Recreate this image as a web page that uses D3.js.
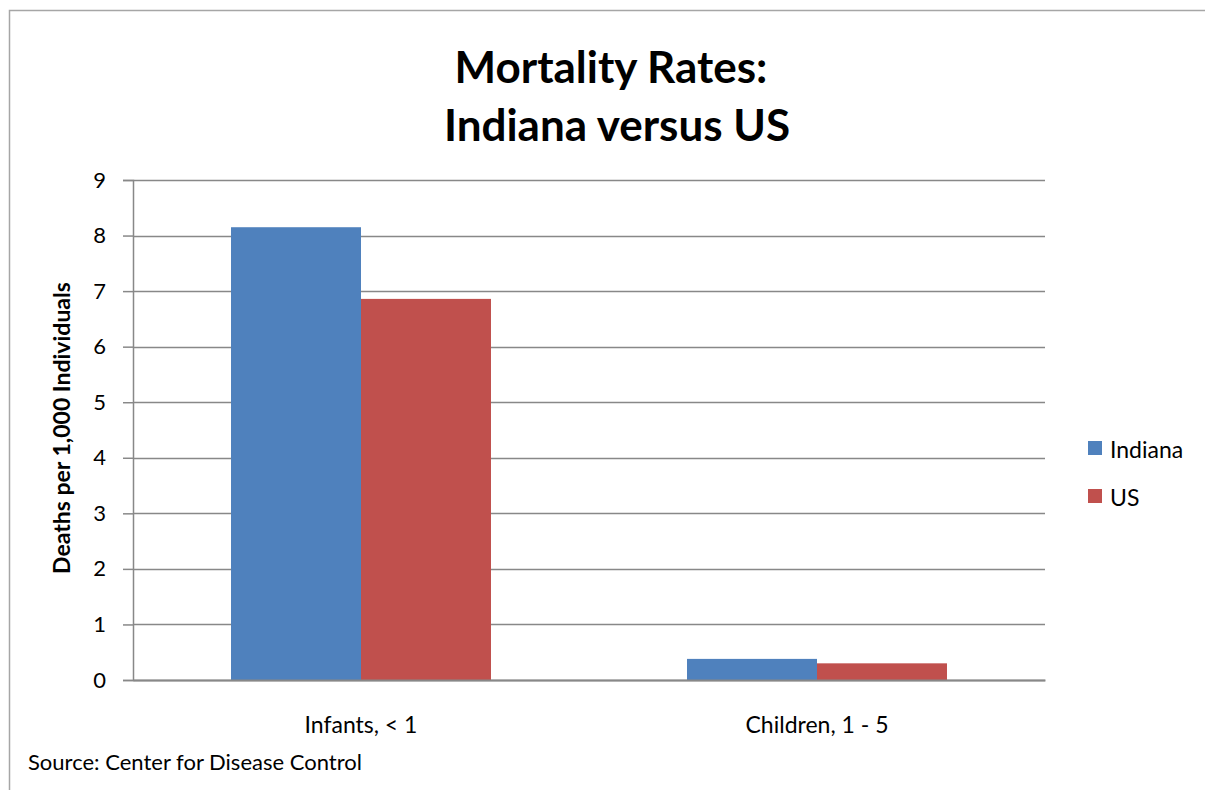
<!DOCTYPE html>
<html>
<head>
<meta charset="utf-8">
<script src="https://cdn.jsdelivr.net/npm/d3@7"></script>
<style>
  html, body { margin: 0; padding: 0; background: #fff; }
  svg { display: block; }
  text { font-family: Lato, "Open Sans", sans-serif; fill: #000; }
</style>
</head>
<body>
<svg id="chart" width="1205" height="790"></svg>
<script>
// Mortality rates per 1,000 individuals
const categories = ["Infants, < 1", "Children, 1 - 5"];
const seriesNames = ["Indiana", "US"];
const indianaValues = [8.15, 0.38];
const usValues = [6.86, 0.30];
const yTicks = [0, 1, 2, 3, 4, 5, 6, 7, 8, 9];
const seriesColors = ["#4F81BD", "#C0504D"];

const rows = categories.map((c, i) => ({
  category: c,
  values: [
    { series: seriesNames[0], value: indianaValues[i] },
    { series: seriesNames[1], value: usValues[i] }
  ]
}));

const svg = d3.select("#chart");

// chart frame
svg.append("rect")
  .attr("x", 9.5).attr("y", 10.5)
  .attr("width", 1210).attr("height", 800)
  .attr("fill", "none").attr("stroke", "#a6a6a6").attr("stroke-width", 1.5);

const plot = { left: 133, right: 1045, top: 180, bottom: 680 };

const x0 = d3.scaleBand().domain(categories).range([plot.left, plot.right]).padding(0);
const x1 = d3.scaleBand().domain(seriesNames).range([0, x0.bandwidth()])
  .paddingInner(0).paddingOuter(0.754);
const y = d3.scaleLinear().domain([0, 9]).range([plot.bottom, plot.top]);
const color = d3.scaleOrdinal().domain(seriesNames).range(seriesColors);

// horizontal gridlines
svg.append("g")
  .selectAll("line")
  .data(yTicks)
  .join("line")
  .attr("x1", plot.left).attr("x2", plot.right)
  .attr("y1", d => Math.round(y(d)) + 0.5).attr("y2", d => Math.round(y(d)) + 0.5)
  .attr("stroke", "#888").attr("stroke-width", 1.5);

// y axis
const yAxis = svg.append("g")
  .attr("transform", `translate(${plot.left},0)`)
  .call(d3.axisLeft(y).tickValues(yTicks).tickFormat(d3.format("d")).tickSize(10).tickPadding(17));
yAxis.select(".domain").attr("stroke", "#888").attr("stroke-width", 1.5);
yAxis.selectAll(".tick line").attr("stroke", "#888").attr("stroke-width", 1.5);
yAxis.selectAll(".tick text")
  .style("font-family", "Lato, sans-serif").style("font-size", "22px").attr("fill", "#000");

// bars
svg.append("g")
  .selectAll("g")
  .data(rows)
  .join("g")
  .attr("transform", d => `translate(${x0(d.category)},0)`)
  .selectAll("rect")
  .data(d => d.values)
  .join("rect")
  .attr("x", d => x1(d.series))
  .attr("width", x1.bandwidth())
  .attr("y", d => y(d.value))
  .attr("height", d => y(0) - y(d.value))
  .attr("fill", d => color(d.series));

// x axis baseline
const xAxis = svg.append("g")
  .attr("transform", `translate(0,${plot.bottom})`)
  .call(d3.axisBottom(x0).tickSize(0).tickPadding(37));
xAxis.select(".domain").attr("stroke", "#888").attr("stroke-width", 2);
xAxis.selectAll(".tick text")
  .style("font-family", "Lato, sans-serif").style("font-size", "23px").attr("fill", "#000");

// title
const title = svg.append("text")
  .attr("text-anchor", "middle")
  .style("font-size", "44px").style("font-weight", "bold");
title.append("tspan").attr("x", 611).attr("y", 83).text("Mortality Rates:");
title.append("tspan").attr("x", 617).attr("y", 141).text("Indiana versus US");

// y axis title
svg.append("text")
  .attr("transform", `translate(70,${(plot.top + plot.bottom) / 2 - 2}) rotate(-90)`)
  .attr("text-anchor", "middle")
  .style("font-size", "23px").style("font-weight", "bold")
  .text("Deaths per 1,000 Individuals");

// legend
const legend = svg.append("g")
  .selectAll("g")
  .data(seriesNames)
  .join("g")
  .attr("transform", (d, i) => `translate(1088,${441 + i * 48})`);
legend.append("rect")
  .attr("width", 14).attr("height", 14)
  .attr("fill", d => color(d));
legend.append("text")
  .attr("x", 22).attr("y", 17)
  .style("font-size", "23px")
  .text(d => d);

// source note
svg.append("text")
  .attr("x", 28).attr("y", 770)
  .style("font-size", "22px")
  .text("Source: Center for Disease Control");
</script>
</body>
</html>
